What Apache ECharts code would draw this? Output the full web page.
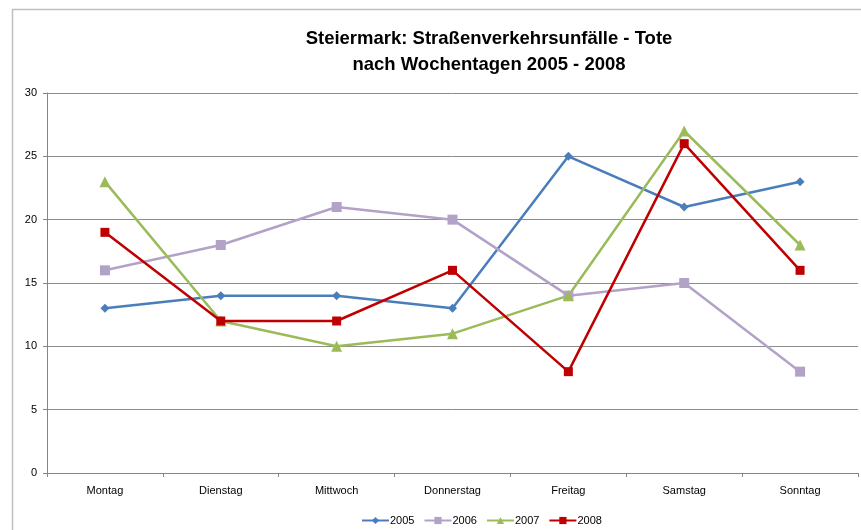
<!DOCTYPE html>
<html>
<head>
<meta charset="utf-8">
<script src="https://cdn.jsdelivr.net/npm/echarts@6/dist/echarts.min.js"></script>
<style>
  html, body { margin: 0; padding: 0; background: #fff; }
  #chart { width: 861px; height: 530px; }
</style>
</head>
<body>
<div id="chart"></div>
<script>
// Wochentage
var days = ["Montag", "Dienstag", "Mittwoch", "Donnerstag", "Freitag", "Samstag", "Sonntag"];
// Tote je Jahr
var y2005 = [13, 14, 14, 13, 25, 21, 23];
var y2006 = [16, 18, 21, 20, 14, 15, 8];
var y2007 = [23, 12, 10, 11, 14, 27, 18];
var y2008 = [19, 12, 12, 16, 8, 26, 16];
var yearNames = ["2005", "2006", "2007", "2008"];

var font = "'Liberation Sans', 'Noto Sans', sans-serif";

function line(name, data, color, symbol, size) {
  return {
    name: name,
    type: "line",
    data: data,
    symbol: symbol,
    symbolSize: size,
    lineStyle: { color: color, width: 2.5 },
    itemStyle: { color: color },
    animation: false,
  };
}

var chart = echarts.init(document.getElementById("chart"));
chart.setOption({
  backgroundColor: "#fff",
  textStyle: { fontFamily: font },
  graphic: [
    {
      // Rahmen (links / oben, rechts und unten abgeschnitten)
      type: "rect",
      shape: { x: 12.5, y: 9.5, width: 900, height: 600 },
      style: { fill: null, stroke: "#bfbfbf", lineWidth: 1.5 },
      z: -1,
    },
  ],
  title: {
    text: "Steiermark: Straßenverkehrsunfälle - Tote\nnach Wochentagen 2005 - 2008",
    left: 484,
    top: 21,
    textAlign: "center",
    textStyle: {
      fontFamily: font,
      fontSize: 18.5,
      fontWeight: "bold",
      color: "#000",
      lineHeight: 26,
    },
  },
  legend: {
    data: yearNames,
    bottom: -1,
    left: 356,
    itemWidth: 27,
    itemHeight: 9,
    itemGap: 9,
    textStyle: { fontFamily: font, fontSize: 11, color: "#000", padding: [0, 0, 0, -4] },
  },
  grid: { left: 47, right: 3, top: 93, bottom: 57 },
  xAxis: {
    type: "category",
    data: days,
    boundaryGap: true,
    axisLine: { lineStyle: { color: "#868686", width: 1 } },
    axisTick: { show: true, length: 4, lineStyle: { color: "#868686" } },
    axisLabel: { color: "#000", fontSize: 11, margin: 12, fontFamily: font },
  },
  yAxis: {
    type: "value",
    min: 0,
    max: 30,
    interval: 5,
    axisLine: { show: true, lineStyle: { color: "#868686", width: 1 } },
    axisTick: { show: true, length: 4, lineStyle: { color: "#868686" } },
    axisLabel: { color: "#000", fontSize: 11, margin: 10, fontFamily: font },
    splitLine: { lineStyle: { color: "#8c8c8c", width: 1 } },
  },
  series: [
    line("2005", y2005, "#4a7ebb", "diamond", 9),
    line("2006", y2006, "#b3a2c7", "rect", 10),
    line("2007", y2007, "#9bbb59", "triangle", 11),
    line("2008", y2008, "#c00000", "rect", 9),
  ],
});
</script>
</body>
</html>
